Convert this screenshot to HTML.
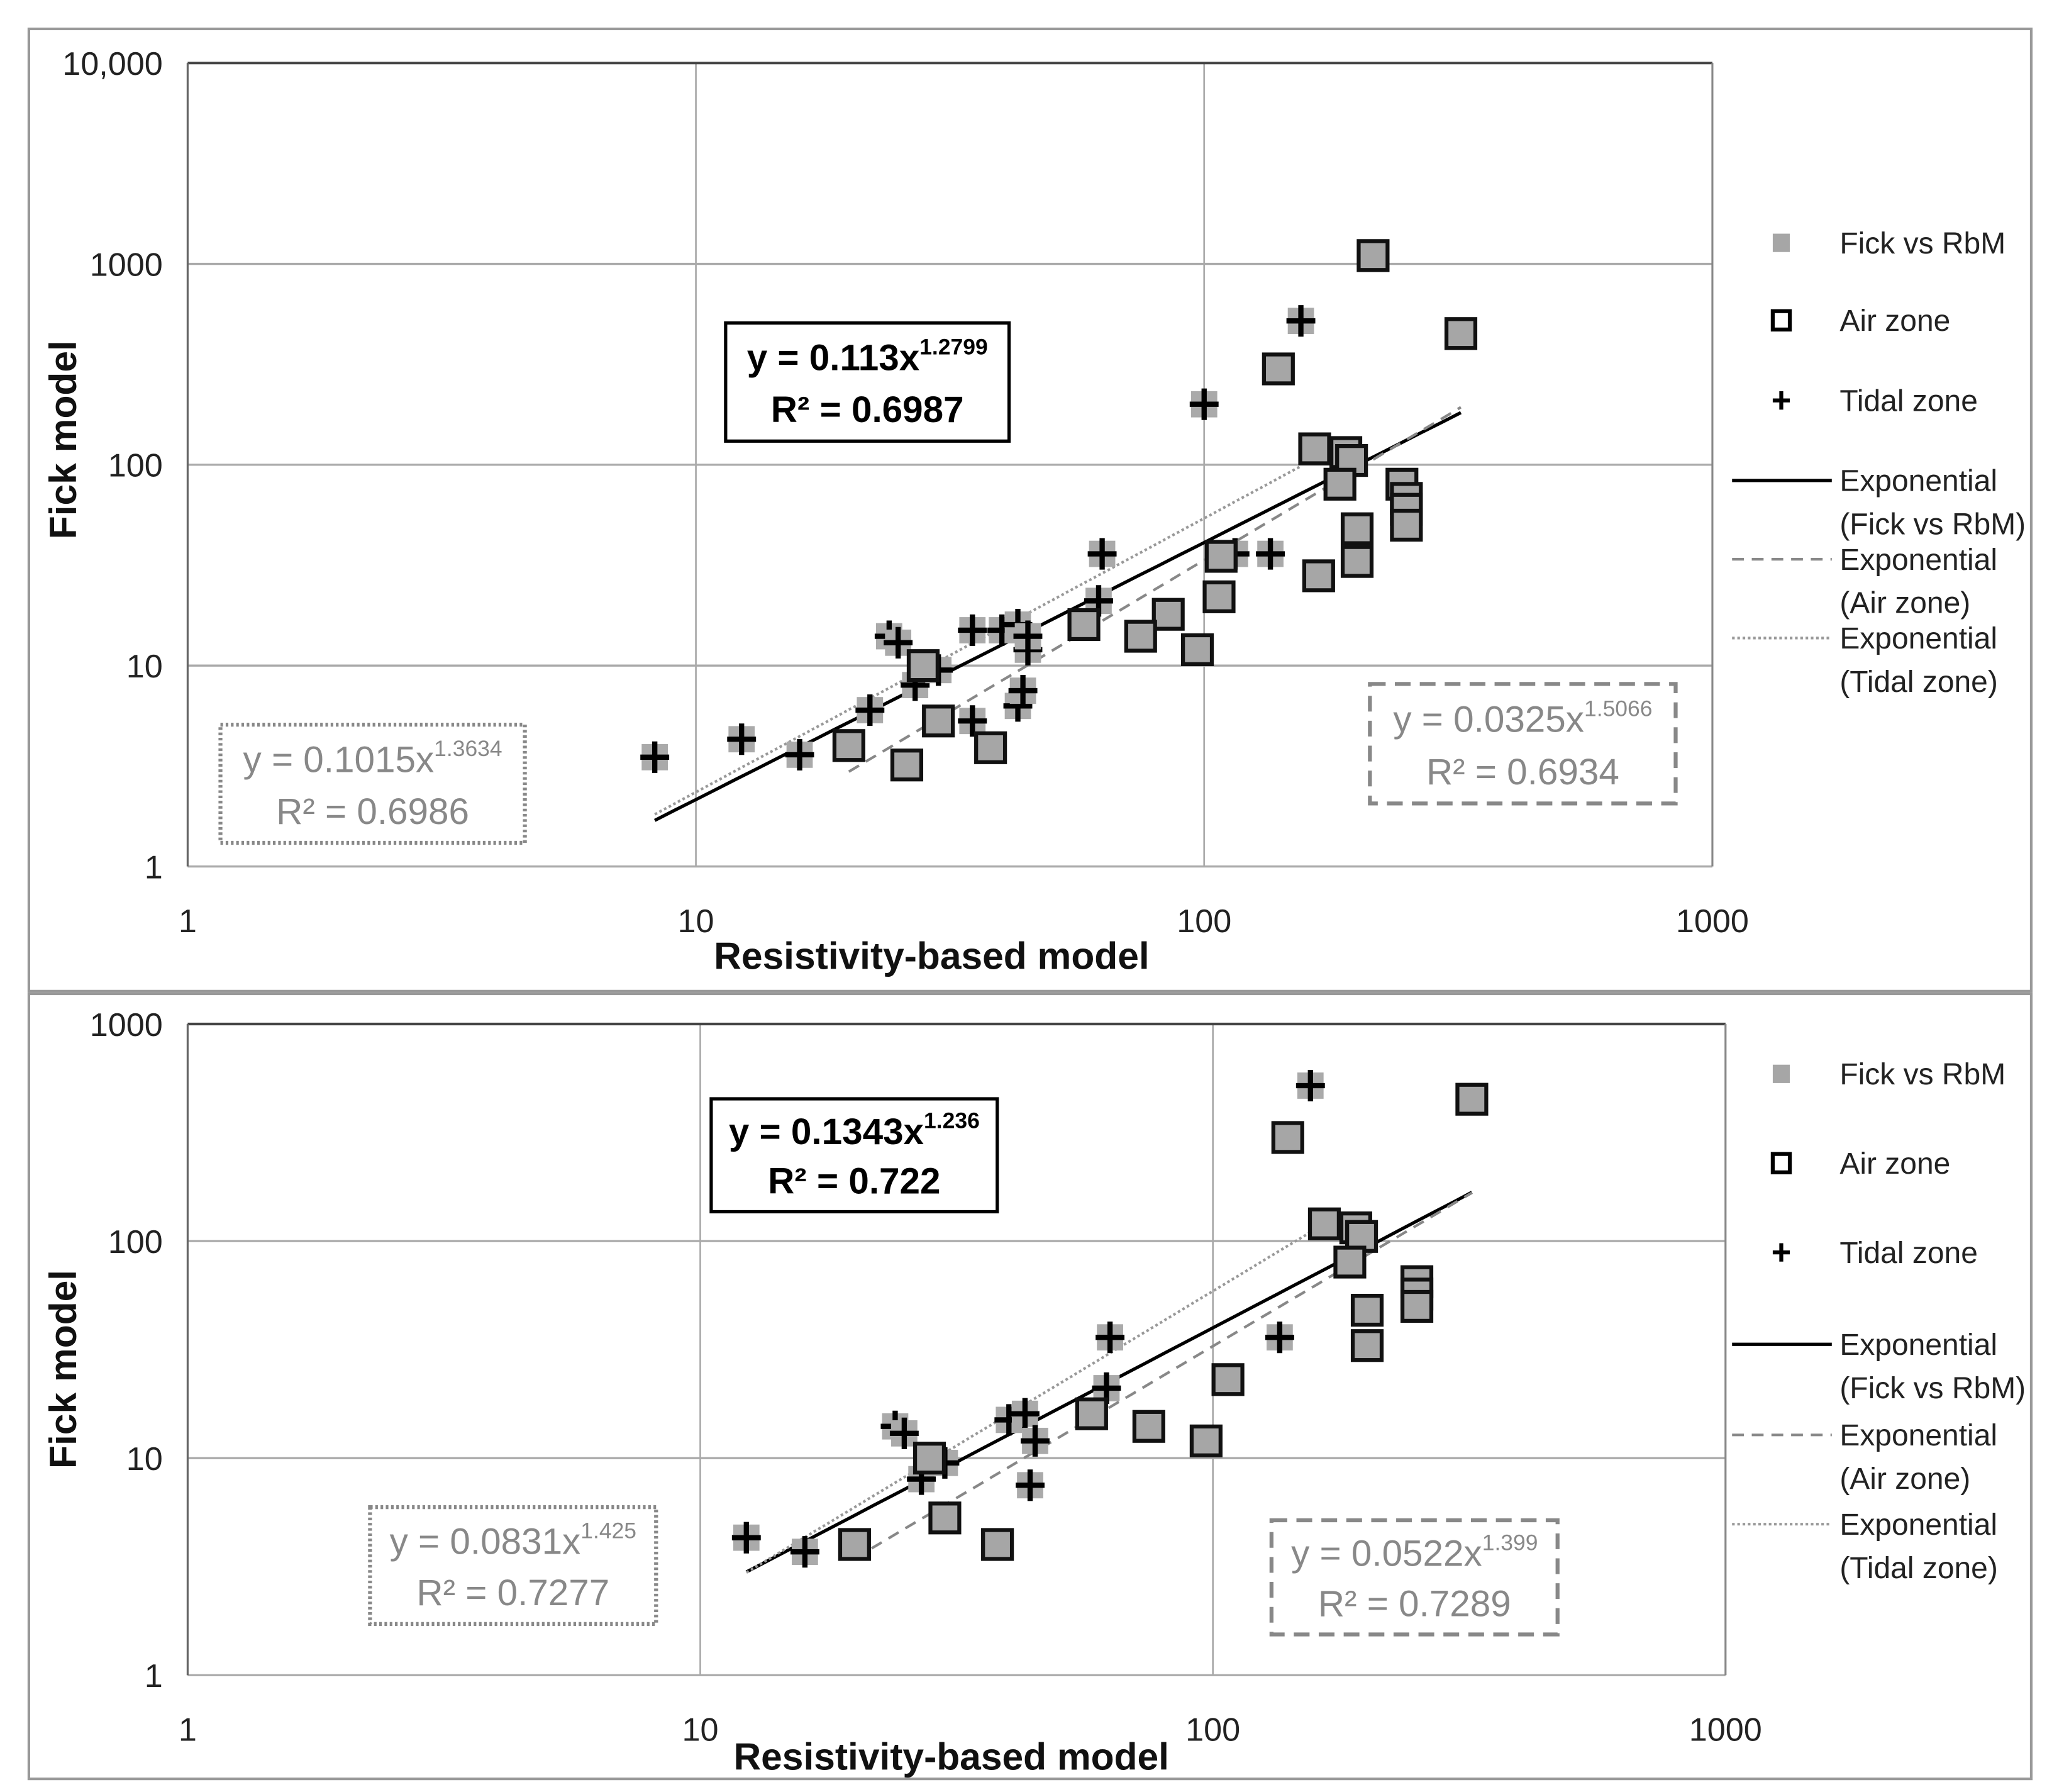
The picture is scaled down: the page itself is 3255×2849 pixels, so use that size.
<!DOCTYPE html>
<html><head><meta charset="utf-8"><style>
html,body{margin:0;padding:0;background:#fff}
svg{display:block}
text{font-family:"Liberation Sans",sans-serif}
</style></head><body>
<svg id="s" width="3255" height="2849" viewBox="0 0 1560 1365" preserveAspectRatio="none" xmlns="http://www.w3.org/2000/svg">
<rect x="0" y="0" width="1560" height="1365" fill="#fff"/>
</svg>
<script>
// ---- data (top panel) ----
const topAirX=[215,320,140,165,190,195,185,245,250,250,250,200,200,168,108,107,85,75,97,58,28,30,38,26,20];
const topAirY=[1100,450,300,120,115,105,80,80,68,60,50,48,33,28,35,22,18,14,12,16,10,5.3,3.9,3.2,4.0];
const topTidX=[8.3,12.3,16,22,24,25,27,30,35,35,40,43,43,44,45,45,62,63,100,115,135,155];
const topTidY=[3.5,4.3,3.6,6,14,13,8,9.5,15,5.3,15,16,6.3,7.5,12,14,21,36,200,36,36,520];
const topFitA=[0.113,0.0325,0.1015];
const topFitB=[1.2799,1.5066,1.3634];
const topFitRange=[[8.3,320],[20,320],[8.3,155]];
// ---- data (bottom panel) ----
const botAirX=[320,140,165,190,195,185,250,250,250,200,200,107,75,97,58,28,30,38,20];
const botAirY=[450,300,120,115,105,80,65,57,50,48,33,23,14,12,16,10,5.3,4,4.0];
const botTidX=[12.3,16,24,25,27,30,40,43,45,44,62,63,135,155];
const botTidY=[4.3,3.7,14,13,8,9.5,15,16,12,7.5,21,36,36,520];
const botFitA=[0.1343,0.0522,0.0831];
const botFitB=[1.236,1.399,1.425];
const botFitRange=[[12.3,320],[20,320],[12.3,155]];
const xTicks=["1","10","100","1000"];
const topYTicks=["1","10","100","1000","10,000"];
const botYTicks=["1","10","100","1000"];

const S=document.getElementById('s');
const NS="http://www.w3.org/2000/svg";
function mk(tag,attrs,parent){const e=document.createElementNS(NS,tag);for(const k in attrs)e.setAttribute(k,attrs[k]);(parent||S).appendChild(e);return e;}

function panel(cfg){
  const g=mk('g',{});
  
  
  const b=mk('rect',{x:22,y:cfg.by0,width:1526,height:cfg.by1-cfg.by0,fill:'none',stroke:'#999','stroke-width':2},g);
  
  
  const xs=v=>cfg.L+(Math.log10(v))*(cfg.R-cfg.L)/3;
  const nY=cfg.yT.length-1;
  const ys=v=>cfg.B-(Math.log10(v))*(cfg.B-cfg.T)/nY;
  // grid
  for(let i=0;i<=3;i++){const x=cfg.L+i*(cfg.R-cfg.L)/3;
    const l=mk('line',{x1:x,x2:x,y1:cfg.T,y2:cfg.B,stroke:'#aaa','stroke-width':1.3},g);
    
    
    const t=mk('text',{x:x,y:cfg.B+50,'font-size':25,'text-anchor':'middle',fill:'#222'},g);t.textContent=xTicks[i];
    
    }
  for(let i=0;i<=nY;i++){const y=cfg.B-i*(cfg.B-cfg.T)/nY;
    const l=mk('line',{x1:cfg.L,x2:cfg.R,y1:y,y2:y,stroke:i==nY?'#444':'#aaa','stroke-width':i==nY?2:1.6},g);
    
    
    const t=mk('text',{x:cfg.L-19,y:y+9,'font-size':25,'text-anchor':'end',fill:'#222'},g);t.textContent=cfg.yT[i];
    
    }
  mk('line',{x1:cfg.L,x2:cfg.L,y1:cfg.T,y2:cfg.B,stroke:'#666','stroke-width':1.5},g);
  mk('line',{x1:cfg.R,x2:cfg.R,y1:cfg.T,y2:cfg.B,stroke:'#888','stroke-width':1.5},g);
  // fits
  const styles=[{s:'#000',w:2.5,d:''},{s:'#888',w:2,d:'9 6'},{s:'#999',w:2,d:'2 2'}];
  const fitNames=['fit-line-fick','fit-line-air','fit-line-tidal'];
  for(let k=0;k<3;k++){let pts=[];const [a,b]=cfg.fr[k];
    for(let j=0;j<=40;j++){const x=a*Math.pow(b/a,j/40);pts.push(xs(x).toFixed(1)+','+ys(cfg.fa[k]*Math.pow(x,cfg.fb[k])).toFixed(1));}
    const p=mk('polyline',{points:pts.join(' '),fill:'none',stroke:styles[k].s,'stroke-width':styles[k].w,'stroke-dasharray':styles[k].d},g);
    
    }
  // points
  for(let i=0;i<cfg.tx.length;i++){const x=xs(cfg.tx[i]),y=ys(cfg.ty[i]);
    const q=mk('g',{},g);
    
    
    mk('rect',{x:x-10,y:y-10,width:20,height:20,fill:'#aaa'},q);
    mk('path',{d:`M${x-11},${y}H${x+11}M${x},${y-12}V${y+12}`,stroke:'#000','stroke-width':4},q);}
  for(let i=0;i<cfg.ax.length;i++){const x=xs(cfg.ax[i]),y=ys(cfg.ay[i]);
    const r=mk('rect',{x:x-11,y:y-11,width:22,height:22,fill:'#a6a6a6',stroke:'#111','stroke-width':3},g);
    
    }
  // equation boxes
  cfg.boxes.forEach(bx=>{
    const bg=mk('g',{},g);
    
    
    mk('rect',{x:bx.x,y:bx.y,width:bx.w,height:bx.h,fill:'#fff',stroke:bx.c,'stroke-width':bx.sw,'stroke-dasharray':bx.d},bg);
    const t1=mk('text',{x:bx.x+bx.w/2,y:bx.y+bx.h*0.40,'font-size':28,'text-anchor':'middle',fill:bx.c,'font-weight':bx.b?'bold':'normal'},bg);
    t1.innerHTML=bx.t1+'<tspan font-size="17" dy="-12">'+bx.e+'</tspan>';
    const t2=mk('text',{x:bx.x+bx.w/2,y:bx.y+bx.h*0.84,'font-size':28,'text-anchor':'middle',fill:bx.c,'font-weight':bx.b?'bold':'normal'},bg);
    t2.textContent=bx.t2;});
  // axis titles
  const xt=mk('text',{x:cfg.xtx,y:cfg.xty,'font-size':29,'font-weight':'bold','text-anchor':'middle',fill:'#111'},g);xt.textContent='Resistivity-based model';
  
  
  const yt=mk('text',{x:0,y:0,'font-size':29,'font-weight':'bold','text-anchor':'middle',fill:'#111',transform:`translate(58,${cfg.ytc}) rotate(-90)`},g);yt.textContent='Fick model';
  
  
  // legend
  const L=cfg.leg;const lg=mk('g',{},g);
  
  
  const lt=(y,s)=>{const t=mk('text',{x:1402,y:y+8,'font-size':23,fill:'#222'},lg);t.textContent=s;};
  mk('rect',{x:1351,y:L[0]-7,width:13,height:14,fill:'#a6a6a6'},lg);lt(L[0],'Fick vs RbM');
  mk('rect',{x:1351,y:L[1]-7,width:13,height:14,fill:'#fff',stroke:'#000','stroke-width':3},lg);lt(L[1],'Air zone');
  mk('path',{d:`M1351,${L[2]}H1364M1357.5,${L[2]-7}V${L[2]+7}`,stroke:'#000','stroke-width':3},lg);lt(L[2],'Tidal zone');
  mk('line',{x1:1320,x2:1396,y1:L[3],y2:L[3],stroke:'#000','stroke-width':2.5},lg);lt(L[3],'Exponential');lt(L[3]+33,'(Fick vs RbM)');
  mk('line',{x1:1320,x2:1396,y1:L[4],y2:L[4],stroke:'#888','stroke-width':2,'stroke-dasharray':'9 6'},lg);lt(L[4],'Exponential');lt(L[4]+33,'(Air zone)');
  mk('line',{x1:1320,x2:1396,y1:L[5],y2:L[5],stroke:'#999','stroke-width':2,'stroke-dasharray':'2 2'},lg);lt(L[5],'Exponential');lt(L[5]+33,'(Tidal zone)');
}
panel({name:'top-chart',by0:22,by1:755,L:143,R:1305,T:48,B:660,yT:topYTicks,
  ax:topAirX,ay:topAirY,tx:topTidX,ty:topTidY,fa:topFitA,fb:topFitB,fr:topFitRange,
  xtx:710,xty:738,ytc:335,leg:[185,244,305,366,426,486],
  boxes:[{n:'fick-equation-box',x:553,y:246,w:216,h:90,c:'#000',sw:2.5,d:'',b:true,t1:'y = 0.113x',e:'1.2799',t2:'R² = 0.6987'},
         {n:'tidal-equation-box',x:168,y:552,w:232,h:90,c:'#888',sw:3,d:'2 2',b:false,t1:'y = 0.1015x',e:'1.3634',t2:'R² = 0.6986'},
         {n:'air-equation-box',x:1044,y:521,w:233,h:91,c:'#888',sw:3,d:'12 7',b:false,t1:'y = 0.0325x',e:'1.5066',t2:'R² = 0.6934'}]});
panel({name:'bottom-chart',by0:757,by1:1355,L:143,R:1315,T:780,B:1276,yT:botYTicks,
  ax:botAirX,ay:botAirY,tx:botTidX,ty:botTidY,fa:botFitA,fb:botFitB,fr:botFitRange,
  xtx:725,xty:1348,ytc:1043,leg:[818,886,954,1024,1093,1161],
  boxes:[{n:'fick-equation-box',x:542,y:837,w:218,h:86,c:'#000',sw:2.5,d:'',b:true,t1:'y = 0.1343x',e:'1.236',t2:'R² = 0.722'},
         {n:'tidal-equation-box',x:282,y:1148,w:218,h:89,c:'#888',sw:3,d:'2 2',b:false,t1:'y = 0.0831x',e:'1.425',t2:'R² = 0.7277'},
         {n:'air-equation-box',x:969,y:1158,w:218,h:87,c:'#888',sw:3,d:'12 7',b:false,t1:'y = 0.0522x',e:'1.399',t2:'R² = 0.7289'}]});
</script>
</body></html>
